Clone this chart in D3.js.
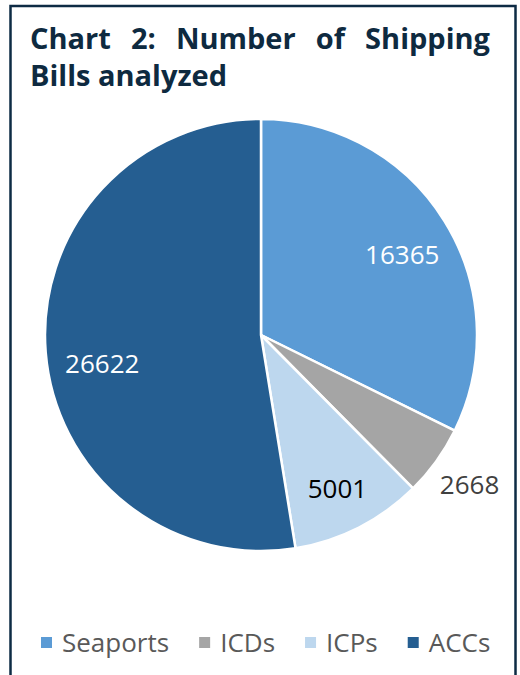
<!DOCTYPE html>
<html lang="en">
<head>
<meta charset="UTF-8">
<title>Chart 2: Number of Shipping Bills analyzed</title>
<script src="https://d3js.org/d3.v7.min.js"></script>
<style>
    body { margin: 0; background: #fff; }
    #chart { width: 520px; height: 675px; }
    .title { font-family: "Open Sans", sans-serif; font-weight: bold; font-size: 29px; fill: #0e2a40; }
    .label { font-family: "Open Sans", sans-serif; font-size: 26px; }
    .legend text { font-family: "Open Sans", sans-serif; font-size: 26px; fill: #595959; }
</style>
</head>
<body>
<div id="chart"></div>
<script>
    // data
    var categories = ["Seaports", "ICDs", "ICPs", "ACCs"];
    var bills = [16365, 2668, 5001, 26622];
    var colors = ["#5b9bd5", "#a5a5a5", "#bdd7ee", "#255e91"];
    var labelColors = ["#ffffff", "#404040", "#000000", "#ffffff"];
    // label nudges (px) the way the labels sit in the original
    var labelNudge = [[0, 8], [0, 0], [1, 6], [7, 16]];

    var width = 520, height = 675;
    var cx = 261, cy = 335, radius = 216;

    var svg = d3.select("#chart").append("svg")
        .attr("width", width)
        .attr("height", height);

    // frame around the chart
    svg.append("rect")
        .attr("x", 10.5).attr("y", 6)
        .attr("width", 505).attr("height", 700)
        .attr("fill", "none")
        .attr("stroke", "#0d2b44")
        .attr("stroke-width", 2.5);

    // justified title, first line spread out word by word
    var line1 = ["Chart", "2:", "Number", "of", "Shipping"];
    var t1 = svg.append("g");
    var words = t1.selectAll("text").data(line1).enter().append("text")
        .attr("class", "title")
        .attr("y", 49)
        .text(function (d) { return d; });
    var widths = [];
    words.each(function () { widths.push(this.getComputedTextLength()); });
    var left = 30, right = 490;
    var gap = (right - left - d3.sum(widths)) / (line1.length - 1);
    var xpos = left;
    words.attr("x", function (d, i) {
        var x = xpos;
        xpos += widths[i] + gap;
        return x;
    });
    svg.append("text")
        .attr("class", "title")
        .attr("x", left).attr("y", 86)
        .text("Bills analyzed");

    var rows = categories.map(function (c, i) {
        return { name: c, value: bills[i], color: colors[i], labelColor: labelColors[i], nudge: labelNudge[i] };
    });

    var pie = d3.pie().sort(null).value(function (d) { return d.value; });
    var arc = d3.arc().innerRadius(0).outerRadius(radius);

    var g = svg.append("g").attr("transform", "translate(" + cx + "," + cy + ")");
    var arcs = pie(rows);

    g.selectAll("path").data(arcs).enter().append("path")
        .attr("d", arc)
        .attr("fill", function (d) { return d.data.color; })
        .attr("stroke", "#fff")
        .attr("stroke-width", 2.5)
        .attr("stroke-linejoin", "round");

    // small slice gets its label outside the pie
    function labelRadius(d) {
        return d.data.value / d3.sum(bills) < 0.07 ? radius * 1.19 : radius * 0.77;
    }
    g.selectAll("text").data(arcs).enter().append("text")
        .attr("class", "label")
        .attr("text-anchor", "middle")
        .attr("dy", "0.35em")
        .attr("transform", function (d) {
            var r = labelRadius(d);
            var c = d3.arc().innerRadius(r).outerRadius(r).centroid(d);
            return "translate(" + (c[0] + d.data.nudge[0]) + "," + (c[1] + d.data.nudge[1]) + ")";
        })
        .attr("fill", function (d) { return d.data.labelColor; })
        .text(function (d) { return d.data.value; });

    // legend along the bottom
    var legend = svg.append("g").attr("class", "legend");
    var items = legend.selectAll("g").data(rows).enter().append("g");
    items.append("rect")
        .attr("width", 11).attr("height", 11)
        .attr("y", 637)
        .attr("fill", function (d) { return d.color; });
    items.append("text")
        .attr("x", 21).attr("y", 652)
        .text(function (d) { return d.name; });
    var lx = 41;
    items.attr("transform", function () {
        var x = lx;
        lx += 21 + this.querySelector("text").getComputedTextLength() + 30;
        return "translate(" + x + ",0)";
    });
</script>
</body>
</html>
